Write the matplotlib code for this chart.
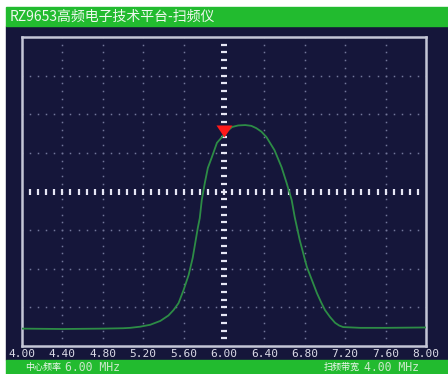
import numpy as np
import matplotlib
matplotlib.use("Agg")
import matplotlib.pyplot as plt
from matplotlib.patches import Rectangle

plt.rcParams['font.family'] = ['Noto Sans CJK SC', 'DejaVu Sans']

# Sweep trace: frequency (MHz) and level (screen divisions, 0..8)
freq = [4.00, 4.40, 4.80, 5.00, 5.07, 5.17, 5.27, 5.37, 5.45, 5.50, 5.55, 5.60,
        5.65, 5.69, 5.72, 5.74, 5.76, 5.78, 5.81, 5.84, 5.88, 5.93, 5.98, 6.03,
        6.08, 6.14, 6.21, 6.27, 6.32, 6.37, 6.42, 6.50, 6.57, 6.62, 6.67, 6.70,
        6.75, 6.82, 6.92, 6.96, 7.00, 7.05, 7.10, 7.14, 7.18, 7.35, 7.60, 8.00]
level = [0.45, 0.44, 0.45, 0.46, 0.47, 0.50, 0.55, 0.65, 0.79, 0.93, 1.11, 1.45,
         1.84, 2.28, 2.74, 3.05, 3.31, 3.78, 4.22, 4.61, 4.89, 5.26, 5.41, 5.56,
         5.67, 5.71, 5.72, 5.70, 5.64, 5.55, 5.41, 5.07, 4.63, 4.22, 3.78, 3.34,
         2.74, 2.05, 1.37, 1.14, 0.93, 0.75, 0.60, 0.53, 0.49, 0.47, 0.47, 0.48]

x_ticks = [4.00, 4.40, 4.80, 5.20, 5.60, 6.00, 6.40, 6.80, 7.20, 7.60, 8.00]
x_labels = ["4.00", "4.40", "4.80", "5.20", "5.60", "6.00", "6.40", "6.80",
            "7.20", "7.60", "8.00"]
marker_freq = 6.00
marker_level = 5.41

title = "RZ9653高频电子技术平台-扫频仪"
center_label, center_value = "中心频率", "6.00 MHz"
span_label, span_value = "扫频带宽", "4.00 MHz"

W, H = 448, 374
NAVY = "#15163a"
GREEN = "#22bb2f"

fig = plt.figure(figsize=(W / 100, H / 100), dpi=100, facecolor="white")

def fx(px):
    return px / W

def fy(py):
    return 1 - py / H

# screen panels
fig.patches.append(Rectangle((fx(6), fy(360)), fx(W - 6), fy(26) - fy(360),
                             transform=fig.transFigure, color=NAVY, zorder=-5))
fig.patches.append(Rectangle((fx(6), fy(26)), fx(W - 6), fy(7) - fy(26),
                             transform=fig.transFigure, color=GREEN, zorder=-5))
fig.patches.append(Rectangle((fx(6), 0), fx(W - 6), fy(360),
                             transform=fig.transFigure, color=GREEN, zorder=-5))

fig.text(fx(10), fy(17), title, color="#eef8ee", fontsize=10,
         ha="left", va="center")
fig.text(fx(25), fy(367.5), center_label, color="#f0f8f0", fontsize=6.5,
         ha="left", va="center")
fig.text(fx(65), fy(367.5), center_value, color="#c8e8c8", fontsize=8.3,
         ha="left", va="center", family="DejaVu Sans Mono")
fig.text(fx(324), fy(367.5), span_label, color="#f0f8f0", fontsize=6.5,
         ha="left", va="center")
fig.text(fx(364), fy(367.5), span_value, color="#c8e8c8", fontsize=8.3,
         ha="left", va="center", family="DejaVu Sans Mono")

ax = fig.add_axes([fx(22), fy(346), fx(404), fy(37) - fy(346)])
ax.set_zorder(5)
ax.set_facecolor(NAVY)
ax.set_xlim(4.0, 8.0)
ax.set_ylim(0, 8)
for s in ax.spines.values():
    s.set_color("#c4c6d6")
    s.set_linewidth(1.8)

# dotted graticule
minor_x = np.arange(4.0, 8.0001, 0.08)
minor_y = np.arange(0.0, 8.0001, 0.2)
for gx in x_ticks[1:-1]:
    if abs(gx - 6.0) < 1e-6:
        continue
    ax.plot(np.full_like(minor_y, gx), minor_y, ls="none", marker="s",
            ms=1.1, mew=0, color="#72769a", zorder=1)
for gy in range(1, 8):
    if gy == 4:
        continue
    ax.plot(minor_x, np.full_like(minor_x, gy), ls="none", marker="s",
            ms=1.1, mew=0, color="#72769a", zorder=1)

# center cross with subdivision ticks
ax.plot(minor_x[1:-1], np.full(len(minor_x) - 2, 4.0), ls="none", marker="|",
        ms=4, mew=1.6, color="#e6e6f4", zorder=2)
ax.plot(np.full(len(minor_y) - 2, 6.0), minor_y[1:-1], ls="none", marker="_",
        ms=4, mew=1.6, color="#e6e6f4", zorder=2)

ax.plot(freq, level, color="#2d8c46", lw=1.3, zorder=3)

tri = [(0, 0), (-0.667, 1), (0.667, 1), (0, 0)]
ax.plot([marker_freq], [marker_level], ls="none", marker=tri, ms=17.3,
        color="#ff1a1a", mew=0, zorder=4)

ax.set_xticks(x_ticks)
ax.set_xticklabels(x_labels, family="DejaVu Sans Mono", fontsize=8,
                   color="#dcdce8")
ax.set_yticks([])
ax.tick_params(axis="x", length=0, pad=2.5)

fig.savefig("out.png", dpi=100, facecolor="white")
